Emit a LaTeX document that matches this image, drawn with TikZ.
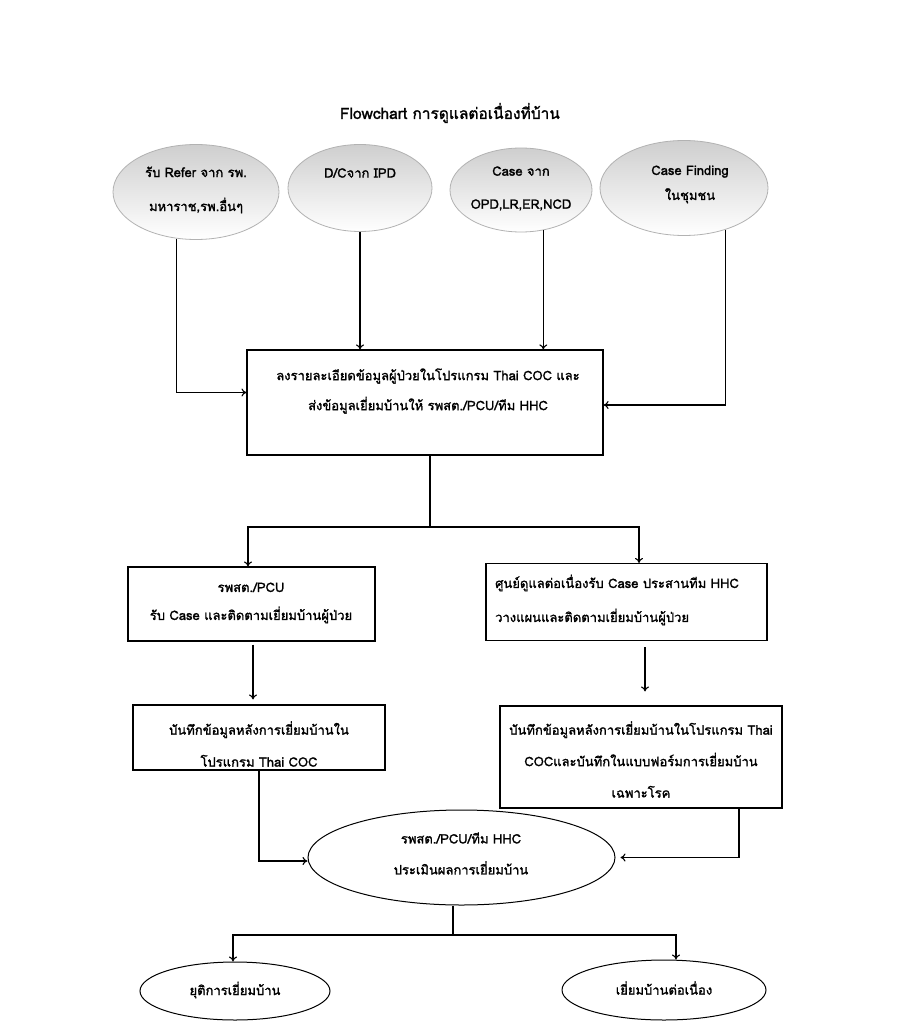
\documentclass[tikz,border=0pt]{standalone}
\usepackage{fontspec}
\newfontfamily\thai[Script=Thai, FakeBold=1.6]{Loma}
\usetikzlibrary{shapes.geometric,arrows.meta}
\begin{document}
\begin{tikzpicture}[x=1pt,y=-1pt,
  src/.style={ellipse, draw=gray!60, line width=0.8pt, top color=gray!38, bottom color=white, inner sep=0},
  boxst/.style={draw, line width=1.2pt, rectangle, inner sep=0},
  oval/.style={ellipse, draw, line width=1pt, inner sep=0},
  txt/.style={font=\thai\fontsize{13}{#1}\selectfont, align=center, inner sep=0},
  txt/.default=31,
  arr/.style={-{To[length=5pt,width=8pt]}, line width=1.1pt},
  ln/.style={line width=1.1pt}]
\useasboundingbox (0,0) rectangle (901,1024);
\fill[white] (0,0) rectangle (901,1024);

\node[font=\thai\fontsize{15.5}{17}\selectfont] (title) at (450,113) {Flowchart การดูแลต่อเนื่องที่บ้าน};

% source ellipses
\node[src, minimum width=166, minimum height=95] (e1) at (196,192) {};
\node[src, minimum width=144, minimum height=87] (e2) at (360,188) {};
\node[src, minimum width=142, minimum height=84] (e3) at (521,190) {};
\node[src, minimum width=168, minimum height=95] (e4) at (684,188) {};
\node[txt=34] (t1) at (196,190) {รับ Refer จาก รพ.\\มหาราช,รพ.อื่นๆ};
\node[txt] (t2) at (360,173) {D/Cจาก IPD};
\node[txt=33] (t3) at (521,188.5) {Case จาก\\OPD,LR,ER,NCD};
\node[txt=25] (t4) at (690,184.5) {Case Finding\\ในชุมชน};

% main box
\node[boxst, minimum width=356, minimum height=105] (b1) at (425,402.5) {};
\node[txt=30] (t5) at (428,391) {ลงรายละเอียดข้อมูลผู้ป่วยในโปรแกรม Thai COC และ\\ส่งข้อมูลเยี่ยมบ้านให้ รพสต./PCU/ทีม HHC};

% second level
\node[boxst, minimum width=247, minimum height=74] (l1) at (251.5,604) {};
\node[txt=28] (t6) at (251,603) {รพสต./PCU\\รับ Case และติดตามเยี่ยมบ้านผู้ป่วย};
\node[boxst, minimum width=281, minimum height=77] (r1) at (626.5,602) {};
\node[txt=34, align=left, anchor=west] (t7) at (495,600) {ศูนย์ดูแลต่อเนื่องรับ Case ประสานทีม HHC\\วางแผนและติดตามเยี่ยมบ้านผู้ป่วย};

% third level
\node[boxst, minimum width=252, minimum height=65] (l2) at (259,737.5) {};
\node[txt=32] (t8) at (259,744) {บันทึกข้อมูลหลังการเยี่ยมบ้านใน\\โปรแกรม Thai COC};
\node[boxst, minimum width=282, minimum height=102] (r2) at (641,757) {};
\node[txt=31.5] (t9) at (641,759.5) {บันทึกข้อมูลหลังการเยี่ยมบ้านในโปรแกรม Thai\\COCและบันทึกในแบบฟอร์มการเยี่ยมบ้าน\\เฉพาะโรค};

% evaluation
\node[oval, minimum width=307, minimum height=95] (e5) at (461.5,857.5) {};
\node[txt] (t10) at (461,853.5) {รพสต./PCU/ทีม HHC\\ประเมินผลการเยี่ยมบ้าน};

% ends
\node[oval, minimum width=190, minimum height=58] (e6) at (235,991) {};
\node[txt] (t11) at (235,990) {ยุติการเยี่ยมบ้าน};
\node[oval, minimum width=204, minimum height=60] (e7) at (664,990) {};
\node[txt] (t12) at (664,988) {เยี่ยมบ้านต่อเนื่อง};

% connectors
\draw[arr] (e1.247) |- ([yshift=10]b1.west);
\draw[arr] (e2.south) -- (e2.south |- b1.north);
\draw[arr] (e3.299) -- (e3.299 |- b1.north);
\draw[arr] (e4.315) |- ([yshift=-2.5]b1.east);

\coordinate (j1) at (430,527);
\draw[ln] (b1.south -| j1) -- (j1);
\draw[arr] (j1) -| ([xshift=-3.5]l1.north);
\draw[arr] (j1) -| ([xshift=12.5]r1.north);

\coordinate (l1b) at ([xshift=1.5]l1.south);
\draw[arr, shorten <=3, shorten >=5] (l1b) -- (l1b |- l2.north);
\coordinate (r2t) at ([xshift=4]r2.north);
\draw[arr, shorten <=6, shorten >=14] (r2t |- r1.south) -- (r2t);

\draw[arr] (l2.south) |- ([yshift=-3.5]e5.west);
\coordinate (r2b) at ([xshift=98]r2.south);
\draw[arr, shorten >=5] (r2b) |- (e5.east);

\coordinate (j2) at (453,935);
\draw[ln] (e5.south -| j2) -- (j2);
\draw[arr] (j2) -| ([xshift=-2]e6.north);
\draw[arr] (j2) -| ([xshift=12]e7.north);
\end{tikzpicture}
\end{document}
